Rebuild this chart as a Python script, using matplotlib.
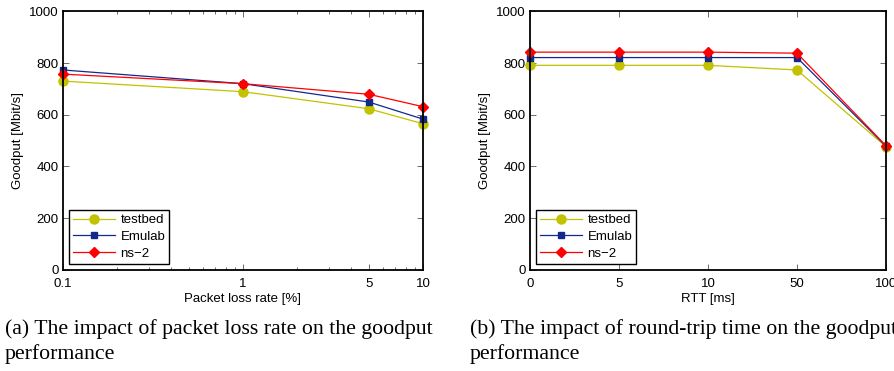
import numpy as np
import matplotlib as mpl
import matplotlib.pyplot as plt
from matplotlib.ticker import LogLocator, NullFormatter

mpl.rcParams['font.family'] = ['Liberation Sans', 'DejaVu Sans']
mpl.rcParams['font.size'] = 9.5

# data (a): packet loss rate
loss = [0.1, 1, 5, 10]
loss_testbed = [730, 689, 623, 565]
loss_emulab = [773, 720, 649, 583]
loss_ns2 = [757, 720, 679, 631]

# data (b): RTT, plotted at equal spacing
rtt_labels = ['0', '5', '10', '50', '100']
rtt_testbed = [791, 791, 791, 773, 476]
rtt_emulab = [821, 821, 821, 821, 478]
rtt_ns2 = [842, 842, 842, 838, 480]

names = ['testbed', 'Emulab', 'ns\u22122']
colors = ['#c2c200', '#12298c', '#ff0000']
markers = ['o', 's', 'D']
msizes = [6.5, 5, 5]

fig = plt.figure(figsize=(8.95, 3.71), dpi=100)
ax1 = fig.add_axes([63/895, 1-269.8/371, 360/895, 258.5/371])
ax2 = fig.add_axes([530/895, 1-269.8/371, 356/895, 258.5/371])

def style(ax):
    ax.set_ylim(0, 1000)
    ax.set_yticks([0, 200, 400, 600, 800, 1000])
    ax.set_ylabel('Goodput [Mbit/s]', labelpad=4)
    ax.tick_params(which='both', direction='in', top=True, right=True,
                   width=0.6, color='#555555')
    ax.tick_params(axis='x', pad=6)
    ax.tick_params(axis='y', pad=3)
    ax.tick_params(which='major', length=4)
    ax.tick_params(which='minor', length=2)
    for s in ax.spines.values():
        s.set_linewidth(1.3)
    ax.legend(loc='lower left', handlelength=3.2, fontsize=9.5,
              fancybox=False, edgecolor='black', framealpha=1,
              borderpad=0.3, labelspacing=0.35, handletextpad=0.4,
              borderaxespad=0.45).get_frame().set_linewidth(1.0)

series1 = [loss_testbed, loss_emulab, loss_ns2]
for vals, n, c, m, ms in zip(series1, names, colors, markers, msizes):
    ax1.plot(loss, vals, color=c, marker=m, markersize=ms, linewidth=0.9,
             label=n, markeredgecolor=c, clip_on=False)
ax1.set_xscale('log')
ax1.set_xlim(0.1, 10)
ax1.set_xticks(loss)
ax1.set_xticklabels(['0.1', '1', '5', '10'])
ax1.xaxis.set_minor_locator(LogLocator(base=10, subs=np.arange(2, 10)))
ax1.xaxis.set_minor_formatter(NullFormatter())
ax1.set_xlabel('Packet loss rate [%]', labelpad=2)
style(ax1)

pos = np.arange(len(rtt_labels))
series2 = [rtt_testbed, rtt_emulab, rtt_ns2]
for vals, n, c, m, ms in zip(series2, names, colors, markers, msizes):
    ax2.plot(pos, vals, color=c, marker=m, markersize=ms, linewidth=0.9,
             label=n, markeredgecolor=c, clip_on=False)
ax2.set_xlim(0, 4)
ax2.set_xticks(pos)
ax2.set_xticklabels(rtt_labels)
ax2.set_xlabel('RTT [ms]', labelpad=2)
style(ax2)

cap = dict(family=['Liberation Serif', 'DejaVu Serif'], fontsize=15.7, va='baseline')
fig.text(5/895, 1-334/371, '(a) The impact of packet loss rate on the goodput', **cap)
fig.text(5/895, 1-359/371, 'performance', **cap)
fig.text(470/895, 1-334/371, '(b) The impact of round-trip time on the goodput', **cap)
fig.text(470/895, 1-359/371, 'performance', **cap)

fig.savefig('out.png', dpi=100)
